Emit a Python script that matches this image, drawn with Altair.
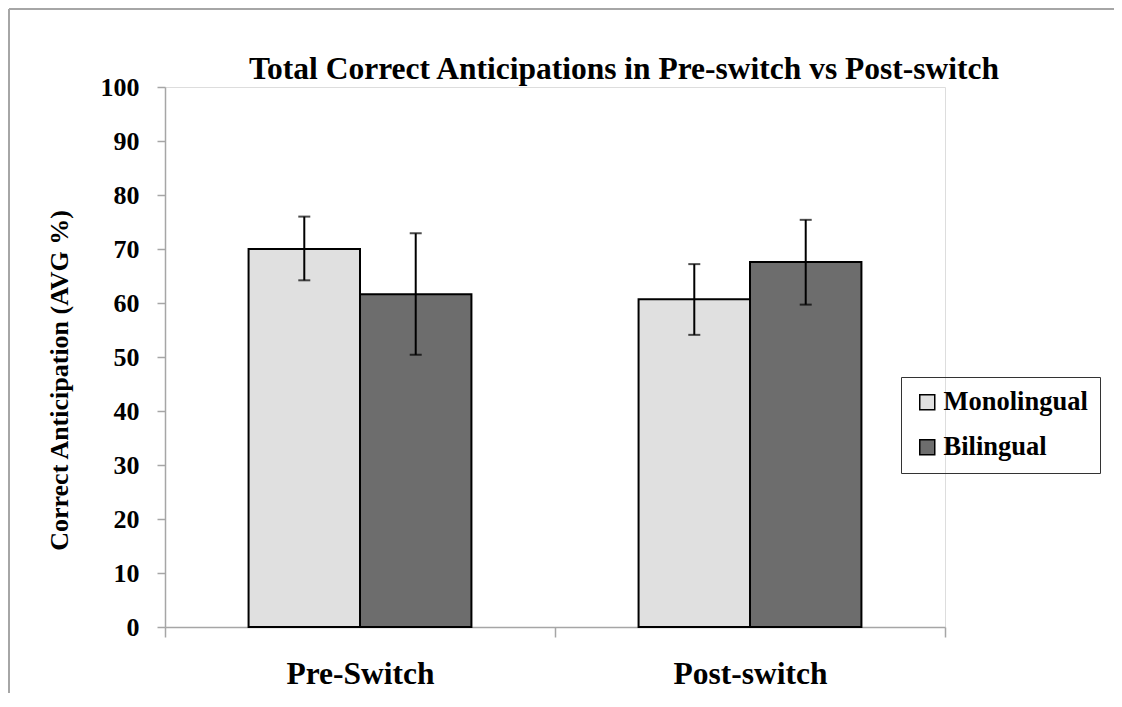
import altair as alt
import pandas as pd

phases = ["Pre-Switch", "Post-switch"]
groups = ["Monolingual", "Bilingual"]
phase_col = ["Pre-Switch", "Pre-Switch", "Post-switch", "Post-switch"]
group_col = ["Monolingual", "Bilingual", "Monolingual", "Bilingual"]
means = [70.0, 61.6, 60.7, 67.6]
err_lo = [64.2, 50.4, 54.1, 59.7]
err_hi = [76.0, 72.9, 67.2, 75.4]
colors = ["#e0e0e0", "#6d6d6d"]

df = pd.DataFrame({"phase": phase_col, "group": group_col,
                   "mean": means, "lo": err_lo, "hi": err_hi})

FONT = "Liberation Serif"

x_enc = alt.X("phase:N", sort=phases,
              scale=alt.Scale(paddingInner=0, paddingOuter=0),
              axis=alt.Axis(title=None, labelAngle=0, tickBand="extent",
                            labelFont=FONT, labelFontSize=31.5, labelFontWeight="bold",
                            labelColor="black", domainColor="#a6a6a6", tickColor="#a6a6a6",
                            domainWidth=1.5, tickWidth=1.5, tickSize=10, labelPadding=21))
xo_enc = alt.XOffset("group:N", sort=groups,
                     scale=alt.Scale(paddingInner=0, paddingOuter=0.75))

base = alt.Chart(df)

bars = base.mark_bar(stroke="black", strokeWidth=2).encode(
    x=x_enc,
    xOffset=xo_enc,
    y=alt.Y("mean:Q", scale=alt.Scale(domain=[0, 100]),
            axis=alt.Axis(title="Correct Anticipation (AVG %)", values=list(range(0, 101, 10)),
                          grid=False, labelFont=FONT, labelFontSize=26, labelFontWeight="bold",
                          labelColor="black", titleFont=FONT, titleFontSize=26,
                          titleFontWeight="bold", titleColor="black", titlePadding=28,
                          titleY=293,
                          domainColor="#a6a6a6", tickColor="#a6a6a6", domainWidth=1.5,
                          tickWidth=1.5, tickSize=8, labelPadding=18)),
    color=alt.Color("group:N", sort=groups,
                    scale=alt.Scale(domain=groups, range=colors),
                    legend=alt.Legend(title=None, orient="none", legendX=736, legendY=290,
                                      labelFont=FONT, labelFontSize=26.5, labelFontWeight="bold",
                                      labelColor="black", symbolType="square", symbolSize=225,
                                      symbolStrokeColor="black", symbolStrokeWidth=1.5,
                                      symbolOffset=1,
                                      strokeColor="#333333", padding=12, rowPadding=18,
                                      labelOffset=3)),
)

rules = base.mark_rule(color="black", strokeWidth=2).encode(
    x=x_enc, xOffset=xo_enc, y="lo:Q", y2="hi:Q")
cap_hi = base.mark_tick(color="black", thickness=2, size=12, orient="horizontal").encode(
    x=x_enc, xOffset=xo_enc, y="hi:Q")
cap_lo = base.mark_tick(color="black", thickness=2, size=12, orient="horizontal").encode(
    x=x_enc, xOffset=xo_enc, y="lo:Q")

frame_df = pd.DataFrame({"k": [0]})
frame_left = alt.Chart(frame_df).mark_rule(color="#a6a6a6", strokeWidth=2).encode(
    x=alt.value(-156), y=alt.value(-78), y2=alt.value(700))
frame_top = alt.Chart(frame_df).mark_rule(color="#a6a6a6", strokeWidth=2).encode(
    x=alt.value(-156), x2=alt.value(1200), y=alt.value(-78))

chart = alt.layer(frame_left, frame_top, bars, rules, cap_hi, cap_lo).properties(
    width=780, height=540,
    padding={"left": 157, "top": 79, "right": 169, "bottom": 66},
    autosize=alt.AutoSizeParams(type="none"),
    title=alt.TitleParams("Total Correct Anticipations in Pre-switch vs Post-switch",
                          font=FONT, fontSize=31.5, fontWeight="bold", color="black",
                          anchor="middle", frame="group", dx=69, baseline="alphabetic",
                          offset=-102),
).configure_view(stroke=None).configure(background="white")

chart.save("out.html", embed_options={"renderer": "svg", "actions": False})
